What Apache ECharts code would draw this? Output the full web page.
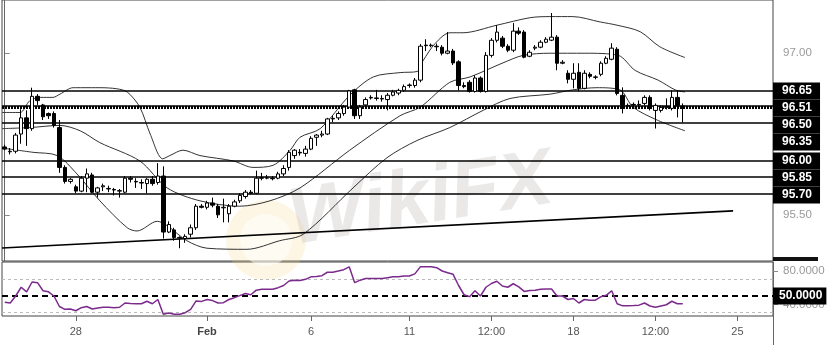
<!DOCTYPE html>
<html><head><meta charset="utf-8">
<script src="https://cdn.jsdelivr.net/npm/echarts@6/dist/echarts.min.js"></script>
<style>html,body{margin:0;padding:0;background:#fff}#c{width:830px;height:345px}</style>
</head><body><div id="c"></div>
<script>
// [open, close, low, high]
const ohlc = [
[96.13,96.11,96.10,96.15],[96.085,96.09,96.06,96.12],[96.09,96.24,96.07,96.26],[96.25,96.40,96.16,96.48],
[96.40,96.30,96.14,96.47],[96.30,96.60,96.28,96.68],[96.60,96.56,96.52,96.62],[96.52,96.41,96.38,96.53],
[96.44,96.42,96.39,96.45],[96.44,96.33,96.31,96.46],[96.31,95.94,95.89,96.38],[95.94,95.81,95.79,95.96],
[95.81,95.83,95.79,95.84],[95.76,95.72,95.70,95.78],[95.72,95.84,95.71,95.86],[95.84,95.88,95.71,95.93],
[95.87,95.71,95.70,95.89],[95.71,95.75,95.66,95.76],[95.76,95.77,95.72,95.79],[95.74,95.745,95.71,95.77],
[95.735,95.73,95.68,95.75],[95.72,95.725,95.66,95.74],[95.71,95.84,95.70,95.86],[95.84,95.83,95.80,95.86],
[95.81,95.805,95.75,95.84],[95.80,95.795,95.74,95.83],[95.79,95.83,95.70,95.84],[95.83,95.79,95.77,95.86],
[95.80,95.86,95.78,95.98],[95.86,95.34,95.28,95.95],[95.34,95.41,95.33,95.44],[95.36,95.29,95.26,95.38],
[95.29,95.285,95.19,95.30],[95.28,95.30,95.24,95.32],[95.32,95.38,95.29,95.41],[95.38,95.58,95.36,95.60],
[95.58,95.57,95.56,95.60],[95.57,95.61,95.55,95.63],[95.61,95.59,95.57,95.66],[95.58,95.50,95.47,95.60],
[95.565,95.57,95.43,95.65],[95.51,95.58,95.43,95.60],[95.58,95.62,95.57,95.64],[95.63,95.68,95.61,95.70],
[95.67,95.71,95.65,95.73],[95.71,95.70,95.69,95.73],[95.70,95.84,95.69,95.91],[95.845,95.84,95.82,95.89],
[95.84,95.845,95.83,95.87],[95.84,95.835,95.82,95.86],[95.84,95.88,95.83,95.90],[95.88,95.93,95.86,95.96],
[95.94,96.08,95.91,96.10],[96.05,96.10,96.02,96.11],[96.08,96.075,96.05,96.11],[96.07,96.11,96.04,96.14],
[96.11,96.21,96.10,96.23],[96.22,96.24,96.14,96.25],[96.24,96.25,96.22,96.28],[96.25,96.39,96.24,96.40],
[96.395,96.39,96.36,96.42],[96.40,96.44,96.38,96.46],[96.44,96.50,96.42,96.52],[96.50,96.65,96.49,96.66],
[96.66,96.42,96.39,96.67],[96.42,96.50,96.39,96.52],[96.52,96.57,96.51,96.59],[96.59,96.585,96.57,96.61],
[96.585,96.58,96.56,96.66],[96.58,96.575,96.55,96.61],[96.57,96.61,96.47,96.63],[96.61,96.64,96.60,96.66],
[96.63,96.655,96.61,96.67],[96.655,96.69,96.64,96.71],[96.70,96.705,96.68,96.72],[96.70,96.75,96.68,96.77],
[96.75,97.065,96.73,97.085],[97.075,97.07,97.02,97.13],[97.07,97.075,97.055,97.09],[97.065,97.06,97.02,97.09],
[97.056,97.00,96.98,97.075],[97.00,97.02,96.99,97.196],[97.02,96.91,96.89,97.04],[96.92,96.70,96.655,96.935],
[96.70,96.69,96.675,96.73],[96.73,96.645,96.635,96.75],[96.645,96.77,96.635,96.795],[96.77,96.645,96.635,96.785],
[96.645,96.98,96.635,97.01],[96.98,97.12,96.96,97.14],[97.12,97.196,97.10,97.26],[97.14,97.065,97.047,97.16],
[97.065,97.028,97.01,97.084],[97.028,97.205,97.01,97.28],[97.205,97.186,97.17,97.24],[97.196,96.963,96.953,97.214],
[96.972,97.009,96.963,97.028],[97.047,97.056,97.028,97.075],[97.056,97.102,97.047,97.121],[97.102,97.130,97.093,97.149],
[97.121,97.149,97.112,97.373],[97.149,96.907,96.842,97.168],[96.907,96.916,96.898,96.935],[96.814,96.758,96.72,96.842],
[96.758,96.814,96.674,96.907],[96.823,96.674,96.646,96.907],[96.674,96.814,96.665,96.842],[96.804,96.786,96.767,96.823],
[96.776,96.78,96.758,96.795],[96.804,96.907,96.786,96.925],[96.907,96.953,96.898,96.972],[96.944,97.047,96.935,97.093],
[97.037,96.627,96.609,97.056],[96.609,96.516,96.441,96.683],[96.516,96.51,96.488,96.534],[96.525,96.52,96.506,96.543],
[96.52,96.525,96.506,96.562],[96.534,96.590,96.516,96.609],[96.590,96.488,96.469,96.609],[96.469,96.516,96.301,96.534],
[96.469,96.497,96.45,96.516],[96.497,96.506,96.478,96.581],[96.488,96.590,96.469,96.655],[96.590,96.516,96.404,96.655],
[96.51,96.505,96.357,96.534]
];
// Bollinger bands: [candle position, price]
const upperBand = [[-0.5,96.45],[2.8,96.45],[4.6,96.56],[6.5,96.59],[8.8,96.59],[10.1,96.62],[12.5,96.68],[14.3,96.68],[17.4,96.68],[20.5,96.67],[22.4,96.64],[24.7,96.50],[26.6,96.25],[28.9,96.02],[30.2,96.05],[32.6,96.10],[35.7,96.05],[41.8,96.00],[45.4,95.94],[49.1,95.96],[52.2,96.10],[54.0,96.22],[57.7,96.30],[63.1,96.61],[67.4,96.78],[72.3,96.82],[75.4,96.83],[76.5,96.93],[78.7,97.09],[81.4,97.19],[83.8,97.19],[90.0,97.26],[96.1,97.33],[99.7,97.34],[103.9,97.34],[108.9,97.29],[112.0,97.26],[116.2,97.20],[119.8,97.06],[124.4,96.96]];
const middleBand = [[-0.5,96.30],[4.6,96.31],[10.1,96.33],[13.8,96.28],[17.4,96.17],[24.7,96.00],[29.7,95.75],[35.7,95.63],[43.0,95.58],[48.5,95.63],[54.0,95.75],[63.1,96.10],[72.3,96.42],[76.0,96.50],[81.4,96.73],[85.1,96.78],[91.1,96.91],[94.8,96.98],[99.7,97.00],[106.1,97.00],[112.2,96.98],[115.3,96.84],[119.5,96.75],[122.6,96.66],[124.4,96.64]];
const lowerBand = [[-0.5,96.12],[5.2,96.08],[9.6,96.05],[13.2,95.88],[17.4,95.63],[22.4,95.38],[24.2,95.35],[27.9,95.44],[29.7,95.40],[33.3,95.26],[37.0,95.19],[44.3,95.18],[50.3,95.26],[54.6,95.32],[63.7,95.75],[69.9,96.03],[75.4,96.19],[81.4,96.31],[87.5,96.47],[92.4,96.58],[99.7,96.62],[103.9,96.66],[108.3,96.68],[112.5,96.66],[114.9,96.50],[119.3,96.38],[124.4,96.28]];
const trendLine = [[-0.5,95.192],[133.2,95.537]];
const levels = [96.65, 96.51, 96.50, 96.35, 96.00, 95.85, 95.70];
const rsi = [42.4,41.6,50,60.5,55,66.8,66,56.3,55,50,37.4,34,34.5,32.3,36,37.4,34.4,35.5,36.5,36.5,36,36.5,41.6,41,40.7,40.7,43.7,40.7,45.8,28,29.5,28,28,30,34,44.1,43.5,45.8,44.5,41.6,42,45.8,48,50.5,53,51.5,57,58,58,58,60,62.6,68,69,68.5,70,73,73.5,74.4,78.5,78.5,80,81.6,85,66,69,71,71,71,71,72,73,73,74,74,76.5,85,85,85,84,80,78,76,62.6,51.5,49.2,56.3,50,60.5,65,67.7,62,60.5,64.7,61,55.5,56.5,57,58,58.4,58.4,50,50,45.8,47,41.6,45.8,45,45,49,50.8,56.3,40.7,38.2,38.2,38.5,39,41.6,38,36.5,38,39.5,43.7,40.7,40.7];
const xTickLabels = ['28','Feb','6','11','12:00','18','12:00','25'];
const xTickIndex = [13,37,56,74,89,104,119,134];
const priceTicks = [95.50, 97.00];
const rsiTicks = [40, 80];
const rsiMid = 50, rsiLevels = [70, 30];

const NCAT = 141;
const cats = Array.from({length: NCAT}, (_, i) => String(i));
const tickSet = new Set(xTickIndex);
const labelOf = {}; xTickIndex.forEach((k, j) => labelOf[k] = xTickLabels[j]);

const G0 = {left: 2, top: 0, width: 771, height: 261};
const G1 = {left: 2, top: 262, width: 771, height: 54};
const yMin = 95.0714, yMax = 97.494;
const rMin = 26, rMax = 90.8;

// stack the level labels so they do not overlap
const pxPerUnit = G0.height / (yMax - yMin);
const boxH = 17;
let prevY = -1e9;
const levelMarks = levels.map(v => {
  const ly = (yMax - v) * pxPerUnit;
  const y = Math.max(ly, prevY + boxH);
  prevY = y;
  const dashed = v === 96.50;
  return {
    yAxis: v,
    lineStyle: dashed ? {type: [2, 1], width: 3, color: '#000'} : {type: 'solid', width: 1.5, color: '#000'},
    label: {offset: [0, y - ly]}
  };
});

const chart = echarts.init(document.getElementById('c'), null, {renderer: 'canvas'});
const labFont = 'Liberation Sans, Arial, sans-serif';
chart.setOption({
  animation: false,
  backgroundColor: '#fff',
  grid: [
    Object.assign({show: true, borderColor: '#444', borderWidth: 1, containLabel: false}, G0),
    Object.assign({show: true, borderColor: '#444', borderWidth: 1, containLabel: false}, G1)
  ],
  xAxis: [
    {type: 'category', gridIndex: 0, data: cats, boundaryGap: true, show: false},
    {type: 'value', gridIndex: 0, min: -0.5, max: NCAT - 0.5, show: false},
    {type: 'category', gridIndex: 1, data: cats, boundaryGap: true, position: 'bottom',
      axisLine: {show: false},
      axisTick: {show: true, alignWithLabel: true, length: 5, lineStyle: {color: '#666'}, interval: (i) => tickSet.has(i)},
      axisLabel: {interval: (i) => tickSet.has(i),
        formatter: (v, i) => { const t = labelOf[i] || ''; return t === 'Feb' ? '{b|Feb}' : t; },
        color: '#555', fontSize: 11, fontFamily: labFont, margin: 10,
        rich: {b: {fontWeight: 'bold', color: '#444', fontSize: 11, fontFamily: labFont}}}
    }
  ],
  yAxis: [
    {type: 'value', gridIndex: 0, min: yMin, max: yMax, position: 'right', splitLine: {show: false},
      axisLine: {show: true, lineStyle: {color: '#666'}},
      axisTick: {show: true, length: 5, customValues: priceTicks, lineStyle: {color: '#888'}},
      axisLabel: {customValues: priceTicks, formatter: v => v.toFixed(2), color: '#999', fontSize: 11.5, fontFamily: labFont, margin: 10}},
    {type: 'value', gridIndex: 1, min: rMin, max: rMax, position: 'right', splitLine: {show: false},
      axisLine: {show: true, lineStyle: {color: '#666'}},
      axisTick: {show: true, length: 5, customValues: rsiTicks, lineStyle: {color: '#888'}},
      axisLabel: {customValues: rsiTicks, formatter: v => v.toFixed(4), color: '#999', fontSize: 11.5, fontFamily: labFont, margin: 10}}
  ],
  graphic: [
    {type: 'circle', shape: {cx: 266, cy: 240, r: 40}, style: {fill: 'rgba(245,215,130,0.22)'}, z: 0, silent: true},
    {type: 'circle', shape: {cx: 266, cy: 240, r: 26}, style: {fill: 'rgba(255,255,255,0.5)'}, z: 0, silent: true},
    {type: 'text', x: 296, y: 262, rotation: 0.16, style: {text: 'WikiFX', font: 'italic bold 80px "Liberation Sans", Arial, sans-serif', fill: 'rgba(190,180,180,0.3)', textVerticalAlign: 'bottom'}, z: 0, silent: true},
    {type: 'line', shape: {x1: 773.5, y1: 316, x2: 773.5, y2: 345}, style: {stroke: '#666', lineWidth: 1}, z: 10, silent: true},
    {type: 'rect', shape: {x: 773, y: 257, width: 45, height: 4}, style: {fill: '#111'}, z: 10, silent: true}
  ],
  series: [
    {type: 'line', xAxisIndex: 1, yAxisIndex: 0, data: upperBand, showSymbol: false, smooth: 0.3, lineStyle: {color: '#333', width: 1}, z: 3},
    {type: 'line', xAxisIndex: 1, yAxisIndex: 0, data: middleBand, showSymbol: false, smooth: 0.3, lineStyle: {color: '#333', width: 1}, z: 3},
    {type: 'line', xAxisIndex: 1, yAxisIndex: 0, data: lowerBand, showSymbol: false, smooth: 0.3, lineStyle: {color: '#333', width: 1}, z: 3},
    {type: 'line', xAxisIndex: 1, yAxisIndex: 0, data: trendLine, showSymbol: false, lineStyle: {color: '#000', width: 1.6}, z: 3},
    {type: 'candlestick', xAxisIndex: 0, yAxisIndex: 0, data: ohlc, barWidth: 4, z: 5,
      itemStyle: {color: '#fff', color0: '#000', borderColor: '#000', borderColor0: '#000', borderWidth: 1},
      markLine: {symbol: 'none', silent: true, z: 4, animation: false,
        label: {show: true, position: 'end', distance: 0, formatter: p => p.value.toFixed(2), backgroundColor: '#000', color: '#fff',
          fontWeight: 'bold', fontSize: 12, fontFamily: labFont, padding: [2, 8, 2, 9], lineHeight: 13},
        data: levelMarks}
    },
    {type: 'line', xAxisIndex: 2, yAxisIndex: 1, data: rsi, showSymbol: false, lineStyle: {color: '#7b2a8c', width: 1.5}, z: 5,
      markLine: {symbol: 'none', silent: true, animation: false,
        data: [
          {yAxis: rsiMid, lineStyle: {type: [6, 4], width: 2, color: '#000'},
            label: {show: true, position: 'end', distance: 0, formatter: p => p.value.toFixed(4), backgroundColor: '#000', color: '#fff', fontWeight: 'bold', fontSize: 12, fontFamily: labFont, padding: [2, 4, 2, 6], lineHeight: 13}},
          ...rsiLevels.map(v => ({yAxis: v, lineStyle: {type: [3, 3], width: 1, color: '#bbb'}, label: {show: false}}))
        ]}
    }
  ]
});
</script>
</body></html>
